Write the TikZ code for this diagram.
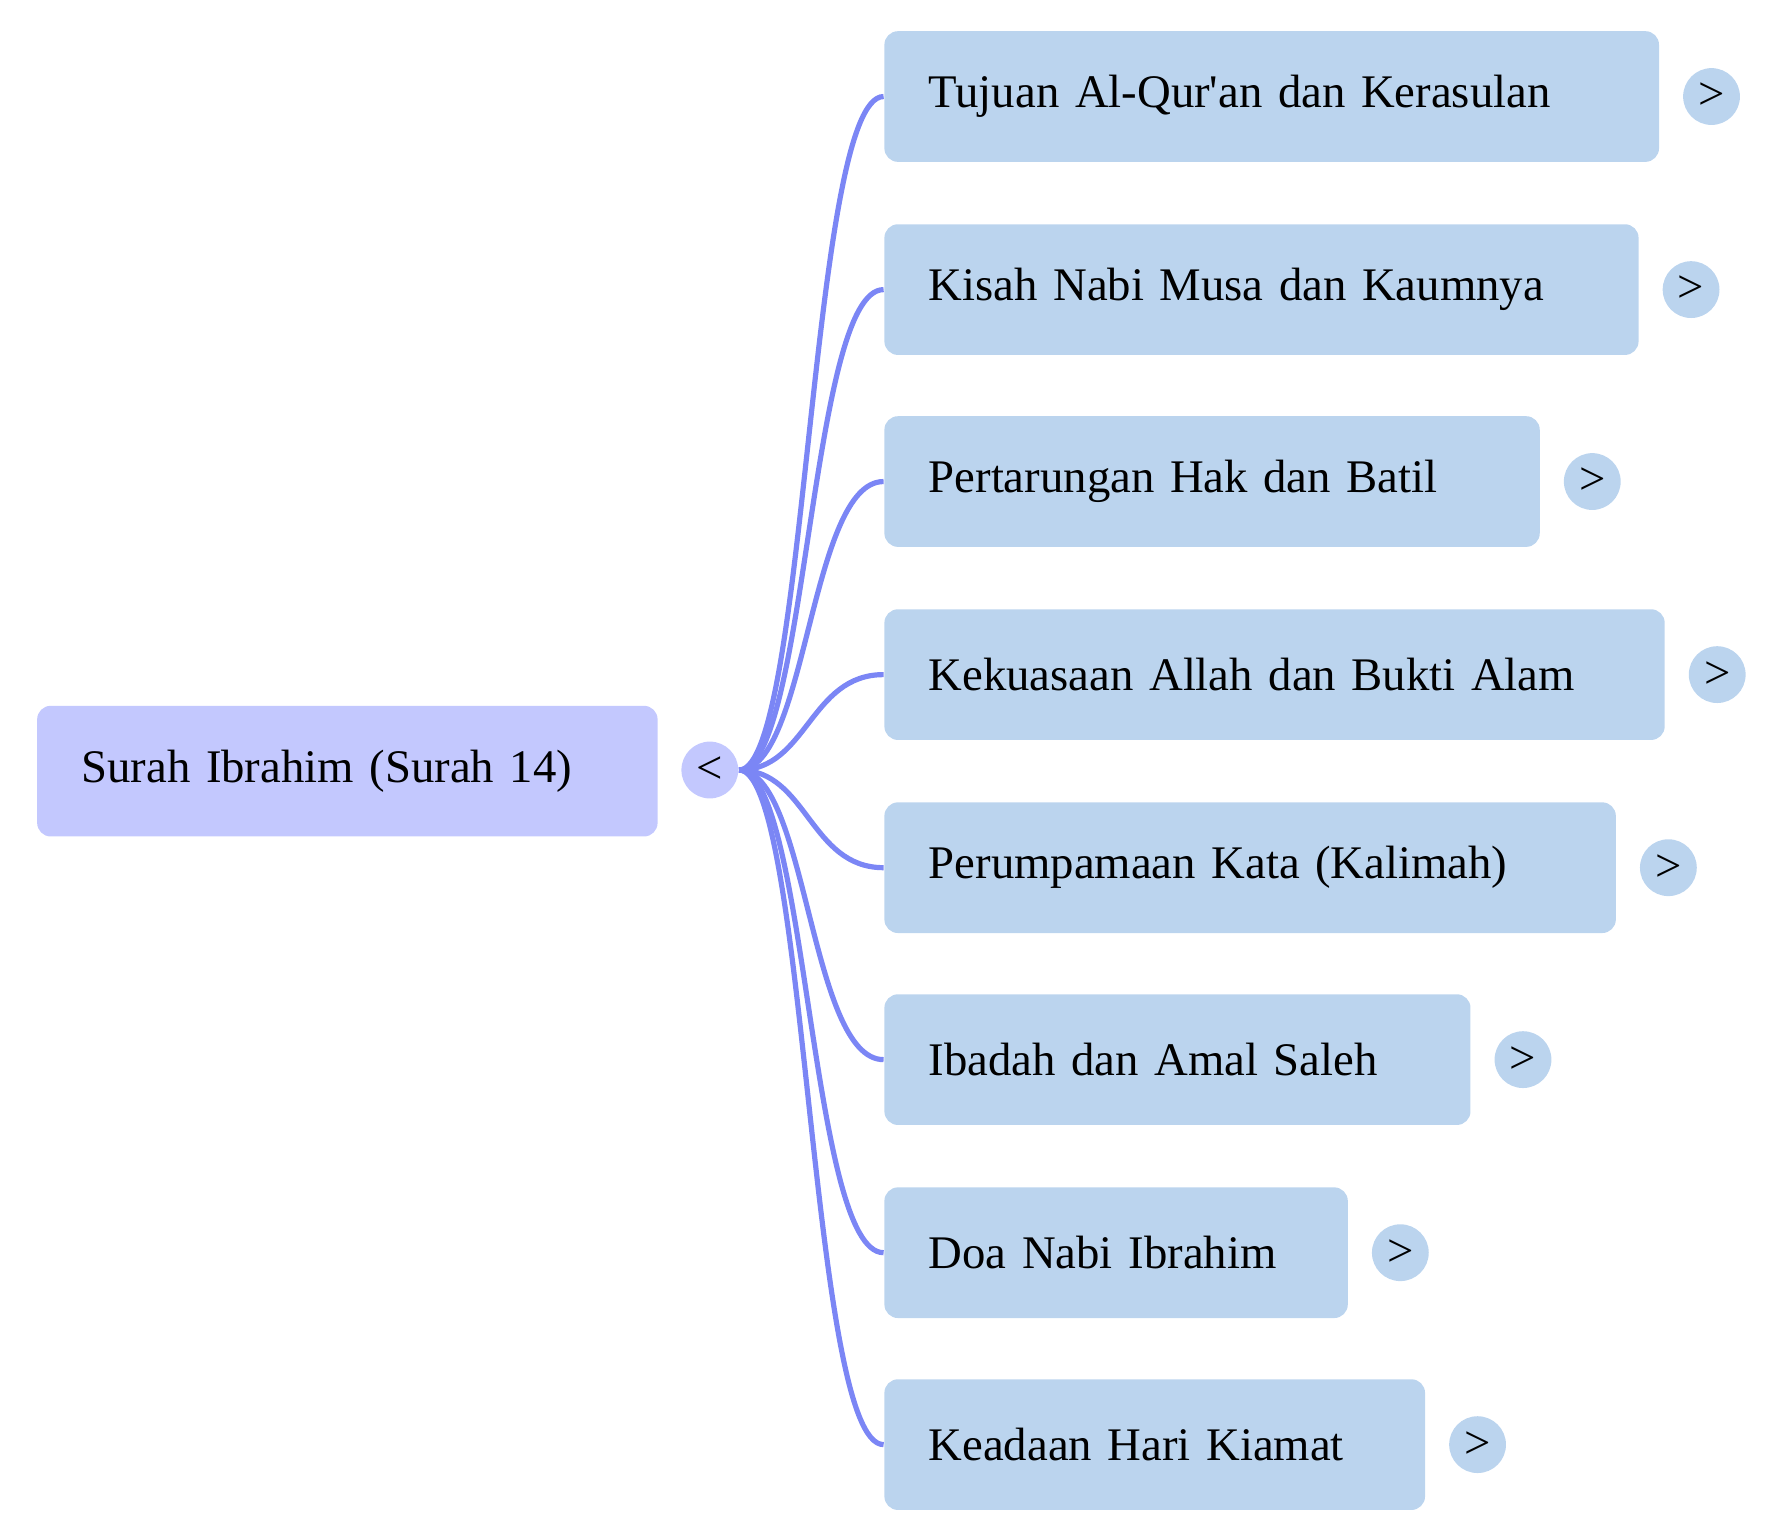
\documentclass[tikz,border=0pt]{standalone}
\usepackage{fontspec}
\setmainfont{Liberation Serif}
\definecolor{rootfill}{HTML}{C3C8FE}
\definecolor{leaffill}{HTML}{BBD4EE}
\definecolor{linkcol}{HTML}{7B86F5}
\tikzset{
  topic/.style={fill=#1, rounded corners=0.12cm, anchor=west, minimum height=1.15cm,
    inner xsep=0.39cm, align=left, font=\fontsize{11.7pt}{14pt}\selectfont},
  knob/.style={circle, fill=#1, minimum size=0.5cm, inner sep=0pt, font=\fontsize{11.7pt}{14pt}\selectfont},
  link/.style={draw=linkcol, line width=1.3pt}
}
\begin{document}
\begin{tikzpicture}[x=0.01cm,y=-0.01cm]
\useasboundingbox (0,0) rectangle (1562,1352);
\node[topic=rootfill, text width=4.68cm] (root) at (32,679) {Surah Ibrahim (Surah 14)};
\node[knob=rootfill] (rootk) at (625,678) {<};
\foreach \n/\y/\r/\t in {a/85/1460/Tujuan Al-Qur\textquotesingle an dan Kerasulan,
  b/255/1442/Kisah Nabi Musa dan Kaumnya,
  c/424/1355/Pertarungan Hak dan Batil,
  d/594/1465/Kekuasaan Allah dan Bukti Alam,
  e/764/1422/Perumpamaan Kata (Kalimah),
  f/933/1294/Ibadah dan Amal Saleh,
  g/1103/1186/Doa Nabi Ibrahim,
  h/1272/1254/Keadaan Hari Kiamat}{
  \pgfmathsetmacro{\w}{(\r-778-78)*0.01}
  \node[topic=leaffill, text width=\w cm] (\n) at (778,\y) {\t};
  \node[knob=leaffill] (\n k) at (\r+47,\y) {>};
  \draw[link] (rootk.east) .. controls +(60,0) and +(-65,0) .. (\n.west);
}
\end{tikzpicture}
\end{document}
